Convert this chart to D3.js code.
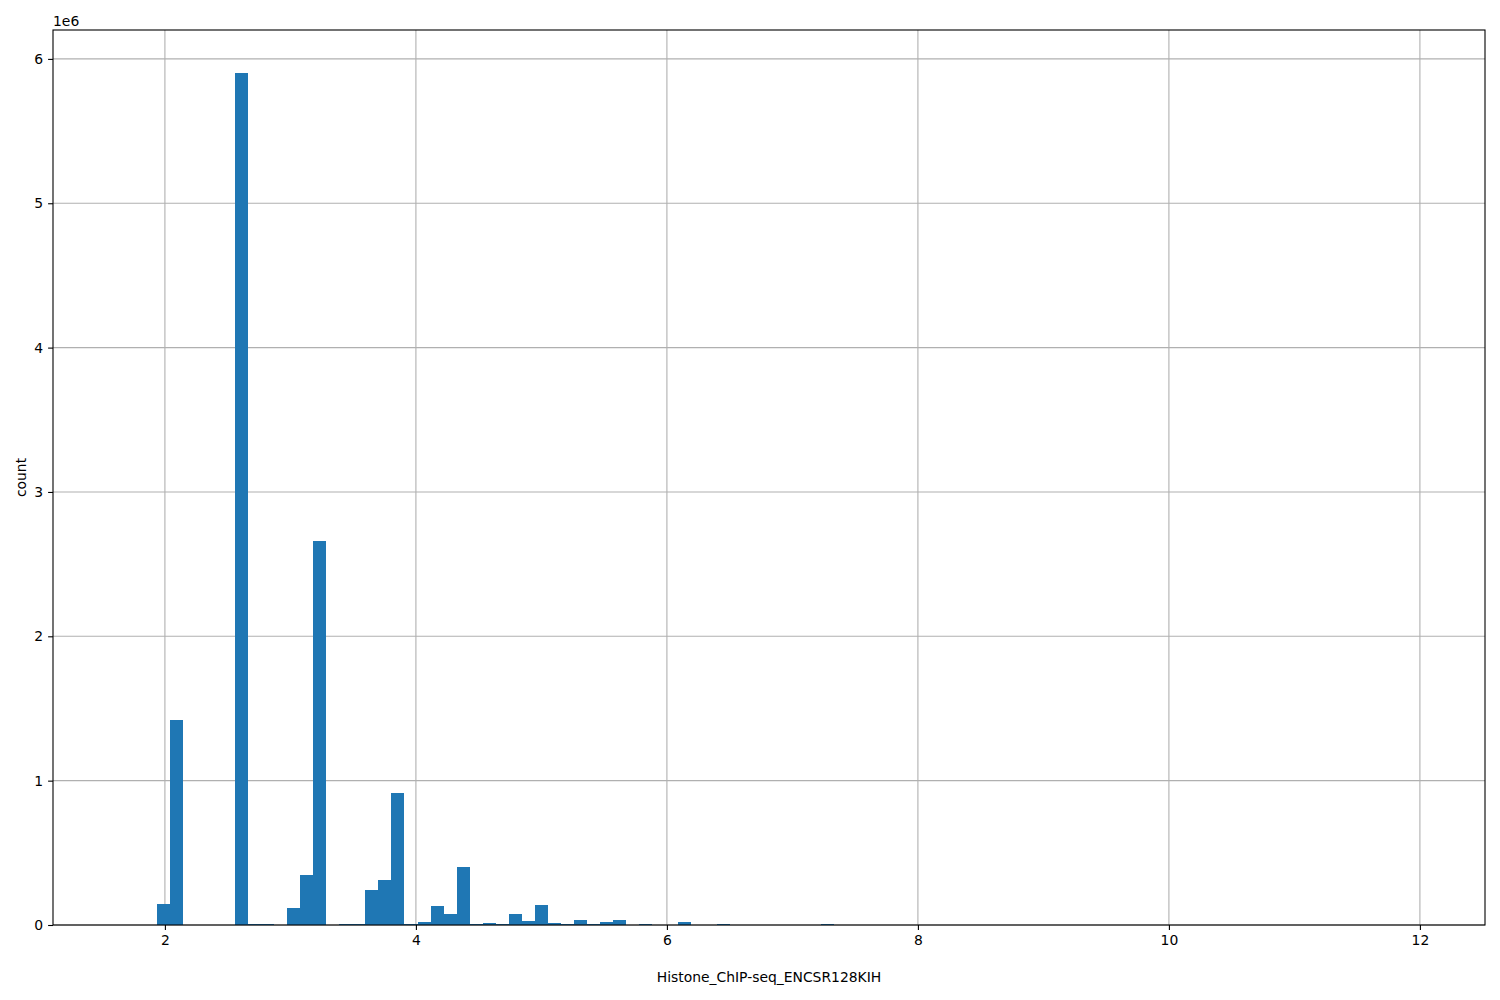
<!DOCTYPE html>
<html><head><meta charset="utf-8">
<script src="https://cdn.jsdelivr.net/npm/d3@7"></script>
<style>body{margin:0;background:#fff;} text{font-family:"DejaVu Sans",sans-serif;}</style>
</head><body>
<svg id="chart" width="1500" height="1000"></svg>
<script>
// Histogram definition (100 bins between data min and max)
const dataMin = 1.627;
const dataMax = 12.0;
const binCount = 100;
// Counts per bin (index 0..99)
const counts = [
  0, 0, 0, 148000, 1422000, 0, 0, 0, 0, 5905000,
  8000, 8000, 0, 120000, 349000, 2663000, 0, 5000, 5000, 245000,
  315000, 917000, 9000, 21000, 133000, 77000, 402000, 7000, 14000, 7000,
  76000, 28000, 139000, 14000, 7000, 35000, 7000, 21000, 35000, 0,
  6000, 0, 0, 20000, 0, 0, 6000, 0, 0, 0,
  0, 0, 0, 0, 6000, 0, 0, 0, 0, 0,
  0, 0, 0, 0, 0, 0, 0, 0, 0, 0,
  0, 0, 0, 0, 0, 0, 0, 0, 0, 0,
  0, 0, 0, 0, 0, 0, 0, 0, 0, 0,
  0, 0, 0, 0, 0, 0, 0, 0, 0, 200
];
const xTicks = [2, 4, 6, 8, 10, 12];
const yTicks = [0, 1e6, 2e6, 3e6, 4e6, 5e6, 6e6];
const xLabel = "Histone_ChIP-seq_ENCSR128KIH";
const yLabel = "count";

const W = 1500, H = 1000;
const m = {left: 53, right: 15, top: 30, bottom: 75};
const iw = W - m.left - m.right, ih = H - m.top - m.bottom;
const svg = d3.select("#chart");
const g = svg.append("g").attr("transform", `translate(${m.left},${m.top})`);

const span = dataMax - dataMin;
const binW = span / binCount;
const x = d3.scaleLinear().domain([dataMin - 0.05*span, dataMax + 0.05*span]).range([0, iw]);
const yMax = d3.max(counts) * 1.05;
const y = d3.scaleLinear().domain([0, yMax]).range([ih, 0]);

// grid
g.append("g").selectAll("line").data(xTicks).join("line")
  .attr("x1", d => x(d)).attr("x2", d => x(d)).attr("y1", 0).attr("y2", ih)
  .attr("stroke", "#b0b0b0").attr("stroke-width", 1.1);
g.append("g").selectAll("line").data(yTicks).join("line")
  .attr("x1", 0).attr("x2", iw).attr("y1", d => y(d)).attr("y2", d => y(d))
  .attr("stroke", "#b0b0b0").attr("stroke-width", 1.1);

// bars
g.append("g").attr("shape-rendering", "crispEdges").selectAll("rect")
  .data(counts.map((c, i) => ({c, i}))).join("rect")
  .attr("x", d => x(dataMin + d.i*binW))
  .attr("width", d => x(dataMin + (d.i+1)*binW) - x(dataMin + d.i*binW))
  .attr("y", d => y(d.c))
  .attr("height", d => y(0) - y(d.c))
  .attr("fill", "#1f77b4");

// axes
const xAxis = d3.axisBottom(x).tickValues(xTicks).tickSize(4.9).tickPadding(4.9).tickFormat(d3.format("d"));
const yAxis = d3.axisLeft(y).tickValues(yTicks).tickSize(4.9).tickPadding(4.9).tickFormat(d => d3.format("d")(d/1e6));
const gx = g.append("g").attr("transform", `translate(0,${ih})`).call(xAxis);
const gy = g.append("g").call(yAxis);
[gx, gy].forEach(a => {
  a.select(".domain").remove();
  a.selectAll("line").attr("stroke", "#000").attr("stroke-width", 1.1);
  a.selectAll("text").attr("font-size", "13.9px").attr("fill", "#000").attr("font-family", "DejaVu Sans");
});

// frame
g.append("rect").attr("x", 0).attr("y", 0).attr("width", iw).attr("height", ih)
  .attr("fill", "none").attr("stroke", "#000").attr("stroke-width", 1.1);

// labels
svg.append("text").attr("x", m.left + iw/2).attr("y", 982).attr("text-anchor", "middle")
  .attr("font-size", "13.9px").text(xLabel);
svg.append("text").attr("transform", `translate(26,${m.top + ih/2}) rotate(-90)`).attr("text-anchor", "middle")
  .attr("font-size", "13.9px").text(yLabel);
svg.append("text").attr("x", m.left).attr("y", 26).attr("font-size", "13.9px").text("1e6");
</script>
</body></html>
